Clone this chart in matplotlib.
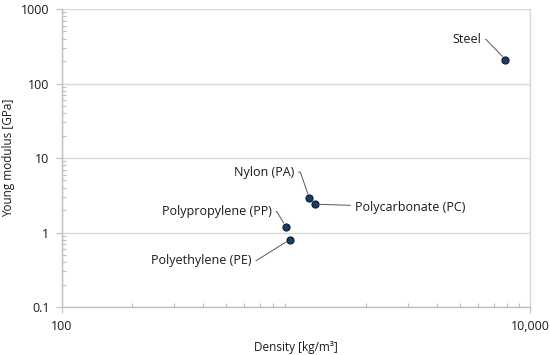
import matplotlib
matplotlib.use("Agg")
import matplotlib.pyplot as plt
from matplotlib.ticker import LogLocator, FixedLocator, NullFormatter

plt.rcParams['font.family'] = ['Open Sans', 'DejaVu Sans']

materials = ["Steel", "Nylon (PA)", "Polycarbonate (PC)", "Polypropylene (PP)", "Polyethylene (PE)"]
density = [7850, 1140, 1200, 905, 940]          # kg/m^3
modulus = [210, 2.9, 2.4, 1.2, 0.8]             # GPa
x_ticks = [100, 10000]
x_tick_labels = ["100", "10,000"]
y_ticks = [0.1, 1, 10, 100, 1000]
y_tick_labels = ["0.1", "1", "10", "100", "1000"]

# label offsets (pixels), alignment, leader-line angle at the point
offsets = [(-24, 20, 'right', 134), (-15, 26, 'right', 109), (40, -3, 'left', None),
           (-14, 15, 'right', 121), (-38, -21, 'right', 212)]

fig = plt.figure(figsize=(5.5, 3.55), dpi=100)
ax = fig.add_axes([0.1127, 0.1352, 0.9636 - 0.1127, 0.9746 - 0.1352])

ax.set_xscale('log')
ax.set_yscale('log')
ax.set_xlim(100, 10000)
ax.set_ylim(0.1, 1000)

grid_c = '#d9d9d9'
axis_c = '#bfbfbf'
ax.spines['top'].set_visible(False)
ax.spines['right'].set_color(grid_c)
ax.spines['right'].set_linewidth(1.0)
for s in ['left', 'bottom']:
    ax.spines[s].set_color(axis_c)
    ax.spines[s].set_linewidth(1.0)

ax.xaxis.set_major_locator(FixedLocator(x_ticks))
ax.set_xticklabels(x_tick_labels)
ax.yaxis.set_major_locator(FixedLocator(y_ticks))
ax.set_yticklabels(y_tick_labels)
ax.xaxis.set_minor_locator(LogLocator(base=10, subs=range(2, 10)))
ax.yaxis.set_minor_locator(LogLocator(base=10, subs=range(2, 10)))
ax.xaxis.set_minor_formatter(NullFormatter())
ax.yaxis.set_minor_formatter(NullFormatter())

ax.tick_params(axis='both', which='major', direction='out', length=4, width=0.8,
               color=axis_c, labelsize=9, labelcolor='#1a1a1a', pad=5)
ax.tick_params(axis='both', which='minor', direction='in', length=3, width=0.8, color=axis_c)

ax.grid(True, which='major', color=grid_c, linewidth=1.0)
ax.set_axisbelow(True)

ax.scatter(density, modulus, s=26, color='#1c3d63', edgecolors='#0a1a2e',
           linewidths=0.8, zorder=3)

for name, x, y, (dx, dy, ha, angB) in zip(materials, density, modulus, offsets):
    if angB is None:
        cs = 'arc3'
    else:
        cs = 'angle,angleA=0,angleB=%d,rad=0' % angB
    ax.annotate(name, xy=(x, y), xytext=(dx, dy), textcoords='offset pixels',
                ha=ha, va='center', fontsize=9, color='#1a1a1a',
                arrowprops=dict(arrowstyle='-', color='#595959', lw=0.7,
                                shrinkA=1, shrinkB=3, connectionstyle=cs))

ax.set_xlabel("Density [kg/m³]", fontsize=8.5, color='#1a1a1a', labelpad=6)
ax.set_ylabel("Young modulus [GPa]", fontsize=8.5, color='#1a1a1a', labelpad=4)

fig.savefig("out.png", dpi=100)
